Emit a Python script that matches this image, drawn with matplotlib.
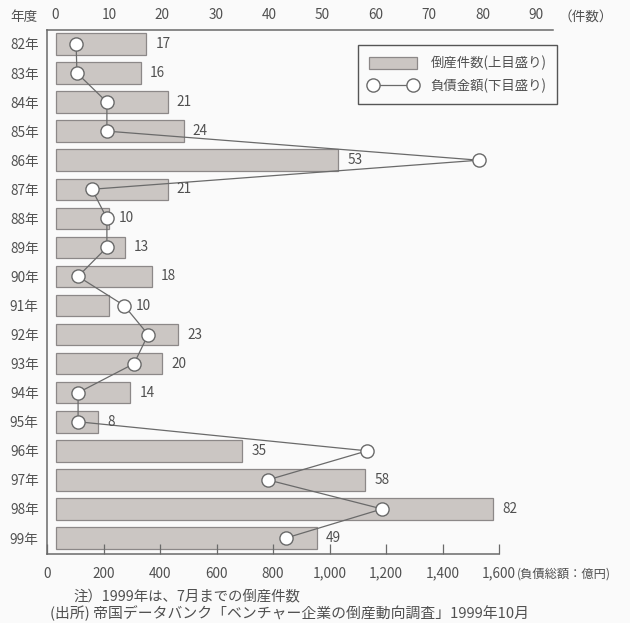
import matplotlib
matplotlib.use("Agg")
import matplotlib.pyplot as plt
from matplotlib.patches import Patch
from matplotlib.lines import Line2D

plt.rcParams['font.family'] = ['Noto Sans CJK JP', 'DejaVu Sans']

years = ['82年', '83年', '84年', '85年', '86年', '87年', '88年', '89年', '90年',
         '91年', '92年', '93年', '94年', '95年', '96年', '97年', '98年', '99年']
counts = [17, 16, 21, 24, 53, 21, 10, 13, 18, 10, 23, 20, 14, 8, 35, 58, 82, 49]
debt = [103, 106, 212, 212, 1529, 159, 212, 212, 110, 273, 358, 308, 110, 110,
        1133, 782, 1186, 846]
top_ticks = [0, 10, 20, 30, 40, 50, 60, 70, 80, 90]
bottom_ticks = [0, 200, 400, 600, 800, 1000, 1200, 1400, 1600]
bottom_labels = ['0', '200', '400', '600', '800', '1,000', '1,200', '1,400', '1,600']

TXT = '#505050'
LINE = '#6a6a6a'
BG = '#fafafa'

fig = plt.figure(figsize=(6.3, 6.23), dpi=100, facecolor=BG)
ax = fig.add_axes([47/630, 1-554/623, (553-47)/630, (554-30)/623])
ax.set_facecolor(BG)
ax2 = ax.twiny()

y = list(range(len(years)))
bars = ax.barh(y, counts, height=0.74, color='#cbc6c3', edgecolor='#8c8888',
               linewidth=0.9, zorder=2)
ax.set_xlim(-1.6, 93.2)
ax.set_ylim(17.55, -0.48)
ax.set_yticks(y)
ax.set_yticklabels(years, fontsize=9.8, color=TXT)
ax.tick_params(axis='y', length=0, pad=6)
ax.xaxis.tick_top()
ax.xaxis.set_label_position('top')
ax.set_xticks(top_ticks)
ax.set_xticklabels([str(t) for t in top_ticks], fontsize=9.8, color=TXT)
ax.tick_params(axis='x', which='both', length=0, pad=6, top=True, bottom=False,
               labeltop=True, labelbottom=False)
for s in ['right', 'bottom']:
    ax.spines[s].set_visible(False)
for s in ['top', 'left']:
    ax.spines[s].set_color(LINE)
    ax.spines[s].set_linewidth(1.1)

ax2.plot(debt, y, color=LINE, linewidth=0.9, marker='o', markersize=9.5,
         markerfacecolor='white', markeredgecolor=LINE, markeredgewidth=1.0,
         zorder=3, clip_on=False)
ax2.set_xlim(0, 1791)
ax2.set_ylim(17.55, -0.48)
ax2.xaxis.tick_bottom()
ax2.xaxis.set_label_position('bottom')
ax2.set_xticks(bottom_ticks)
ax2.set_xticklabels(bottom_labels, fontsize=9.8, color=TXT)
ax2.tick_params(axis='x', direction='in', length=7, width=0.9, color=LINE, pad=9,
                top=False, bottom=True, labeltop=False, labelbottom=True)
for s in ['top', 'left', 'right']:
    ax2.spines[s].set_visible(False)
ax2.spines['bottom'].set_visible(True)
ax2.spines['bottom'].set_bounds(0, 1600)
ax2.spines['bottom'].set_color(LINE)
ax2.spines['bottom'].set_linewidth(1.1)

# value labels: to the right of each bar, pushed past a marker that sits there
r_px = 9.5 / 72 * 100 / 2
for yi, c, d in zip(y, counts, debt):
    bar_end = ax.transData.transform((c, yi))[0]
    circ = ax2.transData.transform((d, yi))[0]
    lx = bar_end + 9
    if bar_end - r_px < circ < bar_end + 30:
        lx = max(lx, circ + r_px + 5)
    xd = ax.transData.inverted().transform((lx, 0))[0]
    ax2.text(xd * 0 + lx, yi, str(c), transform=matplotlib.transforms.blended_transform_factory(
        matplotlib.transforms.IdentityTransform(), ax.transData),
        fontsize=9.8, color=TXT, ha='left', va='center', zorder=4)

fig.text(24/630, 1-17/623, '年度', fontsize=9.8, color=TXT, ha='center', va='center')
fig.text(586/630, 1-17/623, '（件数）', fontsize=9.8, color=TXT, ha='center', va='center')
fig.text(517/630, 1-574/623, '(負債総額：億円)', fontsize=8.8, color=TXT, ha='left',
         va='center')
fig.text(73/630, 1-596/623, '注）1999年は、7月までの倒産件数', fontsize=10.4,
         color=TXT, ha='left', va='center')
fig.text(50/630, 1-613/623, '(出所) 帝国データバンク「ベンチャー企業の倒産動向調査」1999年10月',
         fontsize=10.7, color=TXT, ha='left', va='center')

handles = [Patch(facecolor='#cbc6c3', edgecolor='#8c8888', linewidth=0.9),
           Line2D([0], [0], color=LINE, linewidth=0.9, marker='o', markersize=9.5,
                  markerfacecolor='white', markeredgecolor=LINE)]
leg = ax2.legend(handles, ['倒産件数(上目盛り)', '負債金額(下目盛り)'],
                 loc='upper right', bbox_to_anchor=(557/630, 1-45/623),
                 bbox_transform=fig.transFigure, fontsize=9.6, frameon=True,
                 fancybox=False, edgecolor='#555555', numpoints=2,
                 handlelength=3.6, handleheight=1.0, labelspacing=0.65,
                 borderpad=0.8, handletextpad=1.0, borderaxespad=0,
                 labelcolor=TXT)
leg.get_frame().set_linewidth(1.0)
leg.get_frame().set_facecolor(BG)
leg.get_frame().set_alpha(1)

fig.savefig('out.png', dpi=100, facecolor=BG)
